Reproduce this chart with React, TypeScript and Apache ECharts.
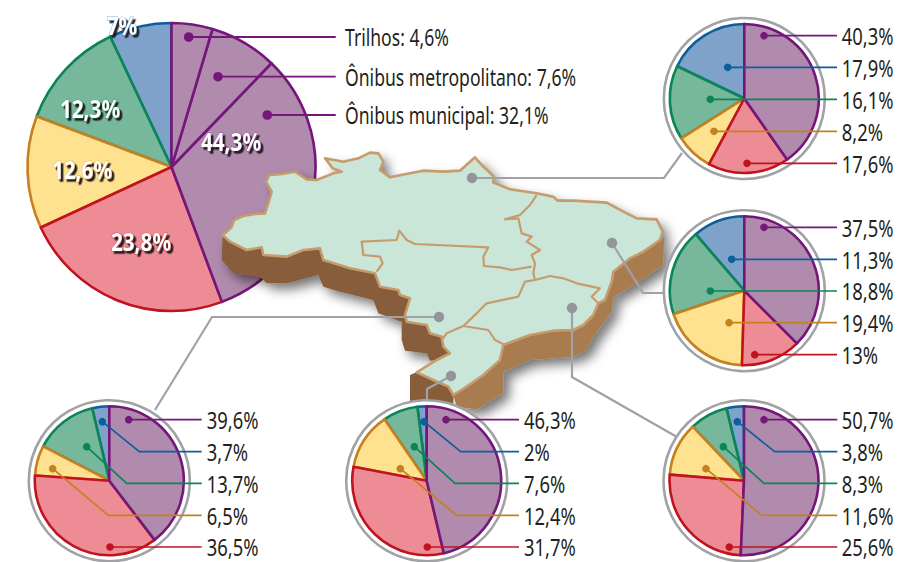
import React, { useEffect, useRef } from "react";
import * as echarts from "echarts";

// ---- data ----
const categories = ["Ônibus municipal", "Ônibus metropolitano", "Trilhos", "Vermelho", "Amarelo", "Verde", "Azul"];
const brazilPublic = [32.1, 7.6, 4.6];
const brazilOthers = [23.8, 12.6, 12.3, 7]; // red, yellow, green, blue
const brazilPublicNames = ["Trilhos", "Ônibus metropolitano", "Ônibus municipal"];
const brazilPublicLabels = [4.6, 7.6, 32.1];
const brazilTotalPublic = 44.3;
// order in each list: purple, blue, green, yellow, red
const norte = [40.3, 17.9, 16.1, 8.2, 17.6];
const nordeste = [37.5, 11.3, 18.8, 19.4, 13];
const centroOeste = [39.6, 3.7, 13.7, 6.5, 36.5];
const sul = [46.3, 2, 7.6, 12.4, 31.7];
const sudeste = [50.7, 3.8, 8.3, 11.6, 25.6];

// ---- styling ----
const FONT = '"Noto Sans", sans-serif';
const fills = { purple: "#b08bad", blue: "#7ea2ca", green: "#77b89d", yellow: "#fee28f", red: "#ee8c95" };
const strokes = { purple: "#74167a", blue: "#0d5f9c", green: "#0a8555", yellow: "#c5801f", red: "#c1131f" };
const orderKeys = ["purple", "blue", "green", "yellow", "red"] as const;
const GRAY = "#a0a2a5";

const fmt = (v: number) => String(v).replace(".", ",") + "%";

type Inset = {
  values: number[];
  c: [number, number];
  labelX: number;
  endX: number;
  rows: number[];
  dots: [number, number][];
  elbows: ([number, number] | null)[];
};

const rowsTop = (y: number) => [y, y + 32, y + 63.6, y + 95.6, y + 127.4];

const insets: Inset[] = [
  {
    values: norte, c: [744.3, 98.5], labelX: 841.7, endX: 837, rows: [35.7, 67.3, 99.3, 131.3, 163.3],
    dots: [[764, 35.7], [727.7, 67.3], [710.3, 99.3], [714, 131.3], [747, 163.3]],
    elbows: [null, null, null, null, null],
  },
  {
    values: nordeste, c: [744.3, 290.7], labelX: 841.7, endX: 837, rows: [227.3, 259.3, 291, 322.7, 354.7],
    dots: [[764, 227.3], [731.7, 259.3], [710.3, 291], [729, 322.7], [754.7, 354.7]],
    elbows: [null, null, null, null, null],
  },
  {
    values: centroOeste, c: [109.3, 480.7], labelX: 206.7, endX: 201.7, rows: rowsTop(419.7),
    dots: [[128.7, 419.7], [102.3, 421.7], [86.7, 446.7], [52.7, 468.7], [110, 547]],
    elbows: [null, [139.3, 451.7], [126.7, 483.3], [108.3, 515.3], null],
  },
  {
    values: sul, c: [426.7, 480.7], labelX: 524, endX: 519, rows: rowsTop(419.7),
    dots: [[446, 419.7], [424, 421.7], [414.3, 446.7], [400.3, 468.7], [427.3, 547]],
    elbows: [null, [460.7, 451.7], [455, 483.3], [456.7, 515.3], null],
  },
  {
    values: sudeste, c: [744, 480.7], labelX: 841.7, endX: 837.3, rows: rowsTop(419.7),
    dots: [[764, 419.7], [737.3, 421.7], [723.3, 446.7], [706, 468.7], [729.3, 547]],
    elbows: [null, [774.7, 451.7], [764, 483.3], [761.7, 515.3], null],
  },
];

// ---- map decoration (outline traced in a 3x crop starting at 210,140) ----
const z = (pts: number[][]) => pts.map(([x, y]) => [210 + x / 3, 140 + y / 3]);

const outline = z([
  [38,285],[50,275],[65,262],[72,240],[100,228],[135,222],[165,220],[175,190],[185,155],[168,125],[178,105],[215,102],[255,95],[290,118],[320,120],[370,100],[395,95],[368,85],[345,55],[400,65],[445,55],[480,38],[505,40],[520,65],[510,90],[540,112],[600,100],[640,92],[700,95],[750,92],[795,52],[815,75],[850,108],[850,128],[900,148],[980,160],[1030,170],[1042,182],[1090,182],[1190,188],[1240,215],[1280,235],[1340,238],[1358,275],[1350,300],[1300,335],[1260,355],[1210,395],[1205,425],[1185,480],[1165,490],[1150,525],[1120,555],[1090,570],[1030,572],[960,585],[880,615],[870,660],[820,705],[770,740],[730,765],[715,740],[670,720],[620,697],[680,660],[720,640],[700,620],[695,590],[660,580],[650,555],[590,545],[585,525],[600,475],[570,465],[565,450],[510,440],[495,400],[420,385],[340,360],[330,325],[280,330],[230,350],[160,345],[155,322],[110,330],[60,305],
]);
const sideWest = z([
  [38,285],[60,305],[110,330],[155,322],[160,345],[230,350],[280,330],[330,325],[340,360],[420,385],[495,400],[510,440],[565,450],[570,465],[600,475],[585,525],[590,545],[650,555],[660,580],[695,590],[700,620],[720,640],[680,660],[660,662],[650,640],[585,632],[575,600],[575,545],[505,520],[490,480],[390,455],[340,440],[325,405],[230,430],[170,430],[150,410],[70,400],[35,360],
]);
const sideSouth = z([[600,705],[620,697],[670,720],[715,740],[730,765],[730,800],[600,800]]);
const sideEast = z([
  [730,765],[770,740],[820,705],[870,660],[880,615],[960,585],[1030,572],[1090,570],[1120,555],[1150,525],[1165,490],[1185,480],[1205,425],[1210,395],[1260,355],[1300,335],[1350,300],[1362,295],[1360,375],[1280,430],[1210,470],[1205,515],[1150,590],[1130,630],[1090,650],[960,660],[880,695],[880,760],[800,808],[740,800],
]);
const borders = [
  [[980,165],[960,195],[930,225],[885,238],[925,235],[935,280],[965,290],[950,305],[990,330],[965,345],[975,370],[970,400],[975,420]],
  [[975,420],[1020,408],[1060,415],[1100,430],[1170,445],[1145,470],[1165,490]],
  [[500,395],[518,370],[510,350],[460,345],[455,305],[560,300],[568,272],[590,300],[615,312],[835,322],[820,350],[822,378],[870,382],[905,390],[965,380]],
  [[975,420],[945,425],[925,470],[830,490],[800,520],[760,558],[710,580],[695,600]],
  [[760,558],[835,570],[855,600],[885,615]],
].map(z);

const connectors: number[][][] = [
  [[472, 178], [664, 178], [682, 153]],
  [[612, 243], [643, 293], [664, 293]],
  [[572, 308], [572, 377], [677, 437]],
  [[451, 376], [427, 389], [427, 402]],
  [[439, 317], [212, 317], [155, 410]],
];

const mainCentre: [number, number] = [171.5, 167];
const mainR = 144;
const mainLeaders = [
  { dot: [188.7, 37], y: 37 },
  { dot: [218, 76.7], y: 76.7 },
  { dot: [267.3, 115], y: 115 },
];
const mainLabelPos: [number, number, string][] = [
  [122, 25, "blue"],
  [90, 108, "green"],
  [82, 169, "yellow"],
  [141, 241, "red"],
];

function narrowText(text: string, x: number, y: number, zv: number, sx: number) {
  return {
    type: "text", z: zv, silent: true, x, y, scaleX: sx,
    style: {
      text, x: 0, y: 0, fill: "#231f20", fontFamily: FONT, fontSize: 23,
      verticalAlign: "middle", align: "left",
    },
  };
}

function buildOption() {
  const series: any[] = [];
  const graphic: any[] = [];

  const [redV, yellowV, greenV, blueV] = brazilOthers;
  const [muni, metro, trilhos] = brazilPublic;
  const item = (name: string, value: number, k: keyof typeof fills) => ({
    name, value,
    itemStyle: { color: fills[k], borderColor: strokes[k], borderWidth: 2.6 },
  });
  series.push({
    type: "pie", z: 1, silent: true, center: mainCentre, radius: [0, mainR],
    startAngle: 90, clockwise: false, label: { show: false }, labelLine: { show: false },
    emphasis: { disabled: true },
    data: [
      item(categories[6], blueV, "blue"),
      item(categories[5], greenV, "green"),
      item(categories[4], yellowV, "yellow"),
      item(categories[3], redV, "red"),
      item(categories[0], muni, "purple"),
      item(categories[1], metro, "purple"),
      item(categories[2], trilhos, "purple"),
    ],
  });

  insets.forEach((ins, idx) => {
    const [p, b, g, y, r] = ins.values;
    series.push({
      type: "pie", z: 6, silent: true, center: ins.c, radius: [0, 74.5],
      startAngle: 90, clockwise: false, label: { show: false }, labelLine: { show: false },
      emphasis: { disabled: true },
      data: [
        item("b" + idx, b, "blue"),
        item("g" + idx, g, "green"),
        item("y" + idx, y, "yellow"),
        item("r" + idx, r, "red"),
        item("p" + idx, p, "purple"),
      ],
    });
    graphic.push({
      type: "circle", z: 5, silent: true,
      shape: { cx: ins.c[0], cy: ins.c[1], r: 80.5 },
      style: { fill: "#fff", stroke: GRAY, lineWidth: 2.6 },
    });
    orderKeys.forEach((k, i) => {
      const dot = ins.dots[i];
      const elbow = ins.elbows[i];
      const pts = elbow ? [dot, elbow, [ins.endX, elbow[1]]] : [dot, [ins.endX, dot[1]]];
      graphic.push({
        type: "polyline", z: 7, silent: true, shape: { points: pts },
        style: { stroke: strokes[k], lineWidth: 1.7, fill: "none" },
      });
      graphic.push({
        type: "circle", z: 7, silent: true, shape: { cx: dot[0], cy: dot[1], r: 3.8 },
        style: { fill: strokes[k] },
      });
      graphic.push(narrowText(fmt(ins.values[i]), ins.labelX, ins.rows[i] + 0.5, 7, 0.8));
    });
  });

  const shadow = { shadowColor: "rgba(0,0,0,0.55)", shadowBlur: 12, shadowOffsetX: 6, shadowOffsetY: 6 };
  graphic.push(
    { type: "polygon", z: 2, silent: true, shape: { points: outline }, style: { fill: "#a97c50", ...shadow } },
    { type: "polygon", z: 2, silent: true, shape: { points: sideEast }, style: { fill: "#a97c50", ...shadow } },
    { type: "polygon", z: 2, silent: true, shape: { points: sideWest }, style: { fill: "#875d3a", ...shadow } },
    { type: "polygon", z: 2, silent: true, shape: { points: sideSouth }, style: { fill: "#875d3a" } },
    {
      type: "polygon", z: 3, silent: true, shape: { points: outline },
      style: { fill: "#c9e6d8", stroke: "#c69c6d", lineWidth: 2.6, lineJoin: "round" },
    },
  );
  borders.forEach((pts) =>
    graphic.push({
      type: "polyline", z: 3, silent: true, shape: { points: pts },
      style: { stroke: "#c69c6d", lineWidth: 2.2, fill: "none", lineJoin: "round" },
    }),
  );
  connectors.forEach((pts) => {
    graphic.push({
      type: "polyline", z: 4, silent: true, shape: { points: pts },
      style: { stroke: GRAY, lineWidth: 2.2, fill: "none" },
    });
    graphic.push({
      type: "circle", z: 4, silent: true, shape: { cx: pts[0][0], cy: pts[0][1], r: 5.2 },
      style: { fill: "#939598" },
    });
  });

  mainLeaders.forEach((l, i) => {
    graphic.push({
      type: "polyline", z: 2, silent: true, shape: { points: [l.dot, [335.7, l.y]] },
      style: { stroke: strokes.purple, lineWidth: 1.8, fill: "none" },
    });
    graphic.push({
      type: "circle", z: 2, silent: true, shape: { cx: l.dot[0], cy: l.dot[1], r: 4.8 },
      style: { fill: strokes.purple },
    });
    graphic.push(narrowText(`${brazilPublicNames[i]}: ${fmt(brazilPublicLabels[i])}`, 345, l.y, 2, 0.765));
  });

  const bold = (text: string, x: number, y: number, key: string) => ({
    type: "text", z: 2, silent: true, x, y, scaleX: 0.83,
    style: {
      text, x: 0, y: 0, align: "center", verticalAlign: "middle",
      fill: "#fff", stroke: (strokes as any)[key], lineWidth: 0.6,
      fontFamily: FONT, fontWeight: "bold", fontSize: 25,
      shadowColor: "rgba(30,20,20,0.95)", shadowBlur: 1.5, shadowOffsetX: 2.5, shadowOffsetY: 2.5,
      textShadowColor: "rgba(30,20,20,0.95)", textShadowBlur: 1.5, textShadowOffsetX: 2.5, textShadowOffsetY: 2.5,
    },
  });
  graphic.push(bold(fmt(brazilTotalPublic), 231, 141, "purple"));
  mainLabelPos.forEach(([x, y, k]) => {
    const v = { blue: blueV, green: greenV, yellow: yellowV, red: redV }[k] as number;
    graphic.push(bold(fmt(v), x, y, k));
  });

  return { animation: false, backgroundColor: "#fff", series, graphic };
}

export default function App() {
  const ref = useRef<HTMLDivElement>(null);
  useEffect(() => {
    const chart = echarts.init(ref.current!, null, { renderer: "svg" });
    chart.setOption(buildOption() as any);
    return () => chart.dispose();
  }, []);
  return <div ref={ref} style={{ position: "absolute", left: 0, top: 0, width: 897, height: 562 }} />;
}
